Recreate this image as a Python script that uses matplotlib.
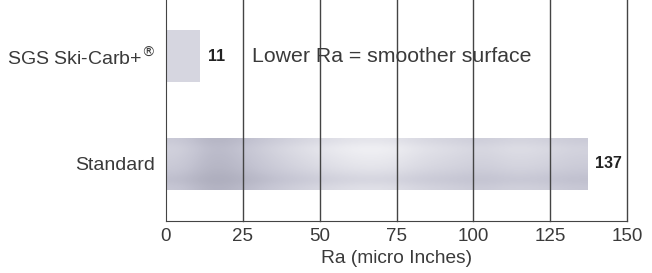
import matplotlib
matplotlib.use("Agg")
import matplotlib.pyplot as plt
from matplotlib.colors import LinearSegmentedColormap
import numpy as np

categories = ["Standard", "SGS Ski-Carb+$^{®}$"]
ra_values = [137, 11]
x_ticks = [0, 25, 50, 75, 100, 125, 150]
note = "Lower Ra = smoother surface"

plt.rcParams['font.family'] = ['Liberation Sans', 'DejaVu Sans']
plt.rcParams['mathtext.fontset'] = 'dejavusans'

fig = plt.figure(figsize=(6.52, 2.73), dpi=100)
ax = fig.add_axes([0.2546, 0.1905, 0.7071, 0.8095])

ypos = np.arange(len(categories))
bars = ax.barh(ypos, ra_values, height=0.48, color='#d8d8e2', edgecolor='none', zorder=1)

# brushed metal look: lighter top, darker bottom, with soft bands across
metal = LinearSegmentedColormap.from_list('metal', ['#8c8c9e', '#c4c4d2', '#f3f3f6'])
bands = np.array([0.6, 0.35, 0.45, 0.6, 0.72, 0.82, 0.9, 0.88, 0.75, 0.7, 0.62, 0.72, 0.68, 0.6])
rows = np.array([0.95, 1.1, 1.05, 1.0, 0.95, 0.85, 0.75, 0.9])
metal_img = np.clip(bands[None, :] * rows[:, None], 0, 1)
flat_img = np.full((2, 2), 0.7)
for b, img in zip(bars, [metal_img, flat_img]):
    x0, y0 = b.get_x(), b.get_y()
    im = ax.imshow(img, cmap=metal, vmin=0, vmax=1, aspect='auto', interpolation='bicubic',
                   extent=[x0, x0 + b.get_width(), y0, y0 + b.get_height()], zorder=1)
    im.set_clip_path(b)

for y, v in zip(ypos, ra_values):
    ax.text(v + 2.7, y, str(v), va='center', ha='left', fontsize=11.5, fontweight='bold', color='#222222')

ax.text(28, 1, note, va='center', ha='left', fontsize=15.3, color='#3a3a3a')

ax.set_xlim(0, 150)
ax.set_ylim(-0.53, 1.52)
ax.set_xticks(x_ticks)
ax.set_yticks(ypos)
ax.set_yticklabels(categories, fontsize=14, color='#3a3a3a')
ax.tick_params(axis='x', labelsize=13.5, labelcolor='#3a3a3a', length=0, pad=5)
ax.tick_params(axis='y', length=0, pad=8)
for x in x_ticks[1:]:
    ax.axvline(x, color='#444444', lw=1, zorder=2, clip_on=False)
for s in ['top', 'right']:
    ax.spines[s].set_visible(False)
ax.spines['left'].set_color('#444444')
ax.spines['bottom'].set_color('#444444')
ax.set_xlabel("Ra (micro Inches)", fontsize=13.8, color='#3a3a3a', labelpad=4)

fig.savefig("out.png", dpi=100)
